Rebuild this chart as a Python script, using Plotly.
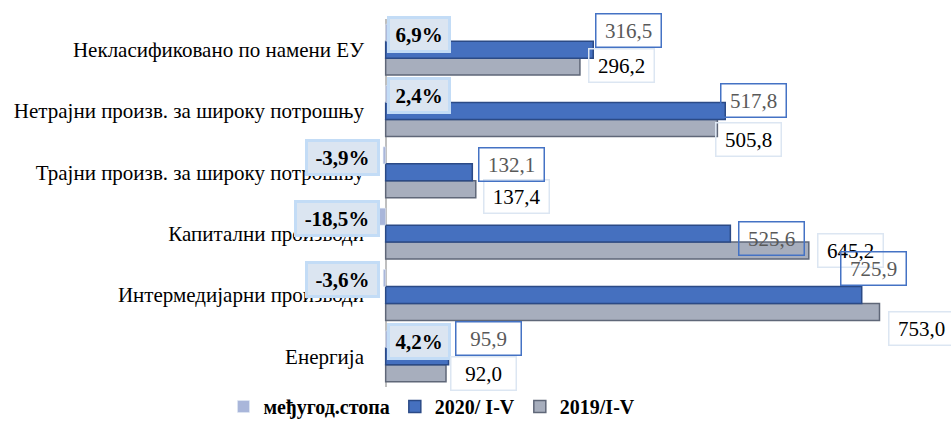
import plotly.graph_objects as go

# categories, bottom to top
categories = ['Енергија', 'Интермедијарни производи', 'Капитални производи',
              'Трајни произв. за широку потрошњу', 'Нетрајни произв. за широку потрошњу',
              'Некласификовано по намени ЕУ']
vals_2020 = [95.9, 725.9, 525.6, 132.1, 517.8, 316.5]
vals_2019 = [92.0, 753.0, 645.2, 137.4, 505.8, 296.2]
rate = [4.2, -3.6, -18.5, -3.9, 2.4, 6.9]

# label nudges in px (x, y) - Excel labels were moved by hand
nudge_2020 = [(6, 18), (-22, 26), (8, -5), (6, 8), (-5, 10), (2, 19)]
nudge_2019 = [(4, 0), (8, -17), (8, 0), (7, -7), (-2, -12), (8, 1)]


def fmt(v, pct=False):
    s = f'{v:.1f}'.replace('.', ',')
    return s + '%' if pct else s


fig = go.Figure()
fig.add_trace(go.Bar(y=categories, x=vals_2019, orientation='h', name='2019/I-V',
                     marker=dict(color='#a7aebd', line=dict(color='#5f6778', width=1.5))))
fig.add_trace(go.Bar(y=categories, x=vals_2020, orientation='h', name='2020/ I-V',
                     marker=dict(color='#4570bf', line=dict(color='#2b4a86', width=1.5))))
fig.add_trace(go.Bar(y=categories, x=rate, orientation='h', name='међугод.стопа',
                     marker=dict(color='#a9b6da')))

slot = 17  # px between bar slots
annots = []
for i, c in enumerate(categories):
    r = rate[i]
    txt = fmt(r, True)
    annots.append(dict(x=0, y=c, text='<b>' + txt + '</b>', showarrow=False,
                       xanchor='left' if r > 0 else 'right', xshift=1 if r > 0 else -6,
                       yshift=slot - 2, font=dict(size=21, color='black'),
                       width=11 * len(txt) + 8, height=25,
                       bgcolor='#dbe5f1', bordercolor='#c3dcf6', borderwidth=3, borderpad=3))
for i, c in enumerate(categories):
    annots.append(dict(x=vals_2019[i], y=c, text=fmt(vals_2019[i]), showarrow=False,
                       xanchor='left', xshift=nudge_2019[i][0], yshift=-slot + nudge_2019[i][1],
                       font=dict(size=21, color='black'), width=58, height=26,
                       bgcolor='rgba(255,255,255,0)', bordercolor='#dce6f2',
                       borderwidth=1.5, borderpad=3))
for i, c in enumerate(categories):
    annots.append(dict(x=vals_2020[i], y=c, text=fmt(vals_2020[i]), showarrow=False,
                       xanchor='left', xshift=nudge_2020[i][0], yshift=nudge_2020[i][1],
                       font=dict(size=21, color='#595959'), width=58, height=26,
                       bgcolor='rgba(255,255,255,0)', bordercolor='#4472c4',
                       borderwidth=1.5, borderpad=3))

fig.update_layout(
    width=951, height=426,
    margin=dict(l=366, r=21, t=19, b=0),
    plot_bgcolor='white', paper_bgcolor='white',
    font=dict(family='Liberation Serif, Times New Roman, serif', color='black'),
    barmode='group', bargap=0.17, bargroupgap=0,
    showlegend=True,
    legend=dict(orientation='h', traceorder='reversed', x=0.117, xanchor='center',
                y=0, yanchor='bottom', font=dict(size=20, color='black'),
                itemwidth=30),
    annotations=annots,
)
fig.update_xaxes(range=[-30, 830], showgrid=False, showticklabels=False, zeroline=True,
                 zerolinecolor='#bfbfbf', zerolinewidth=1.5)
fig.update_yaxes(domain=[0.096, 1], range=[-0.5, 5.5], showgrid=False, showline=False,
                 ticks='', ticklabelstandoff=1, automargin=False,
                 tickfont=dict(size=21, color='black'))
fig.for_each_trace(lambda t: t.update(name='<b>' + t.name + '</b>'))

# page body has a default 8px margin, drop it so the chart sits at 0,0
fig.write_html('out.html', config={'displayModeBar': False},
               post_script="document.body.style.margin='0';")
